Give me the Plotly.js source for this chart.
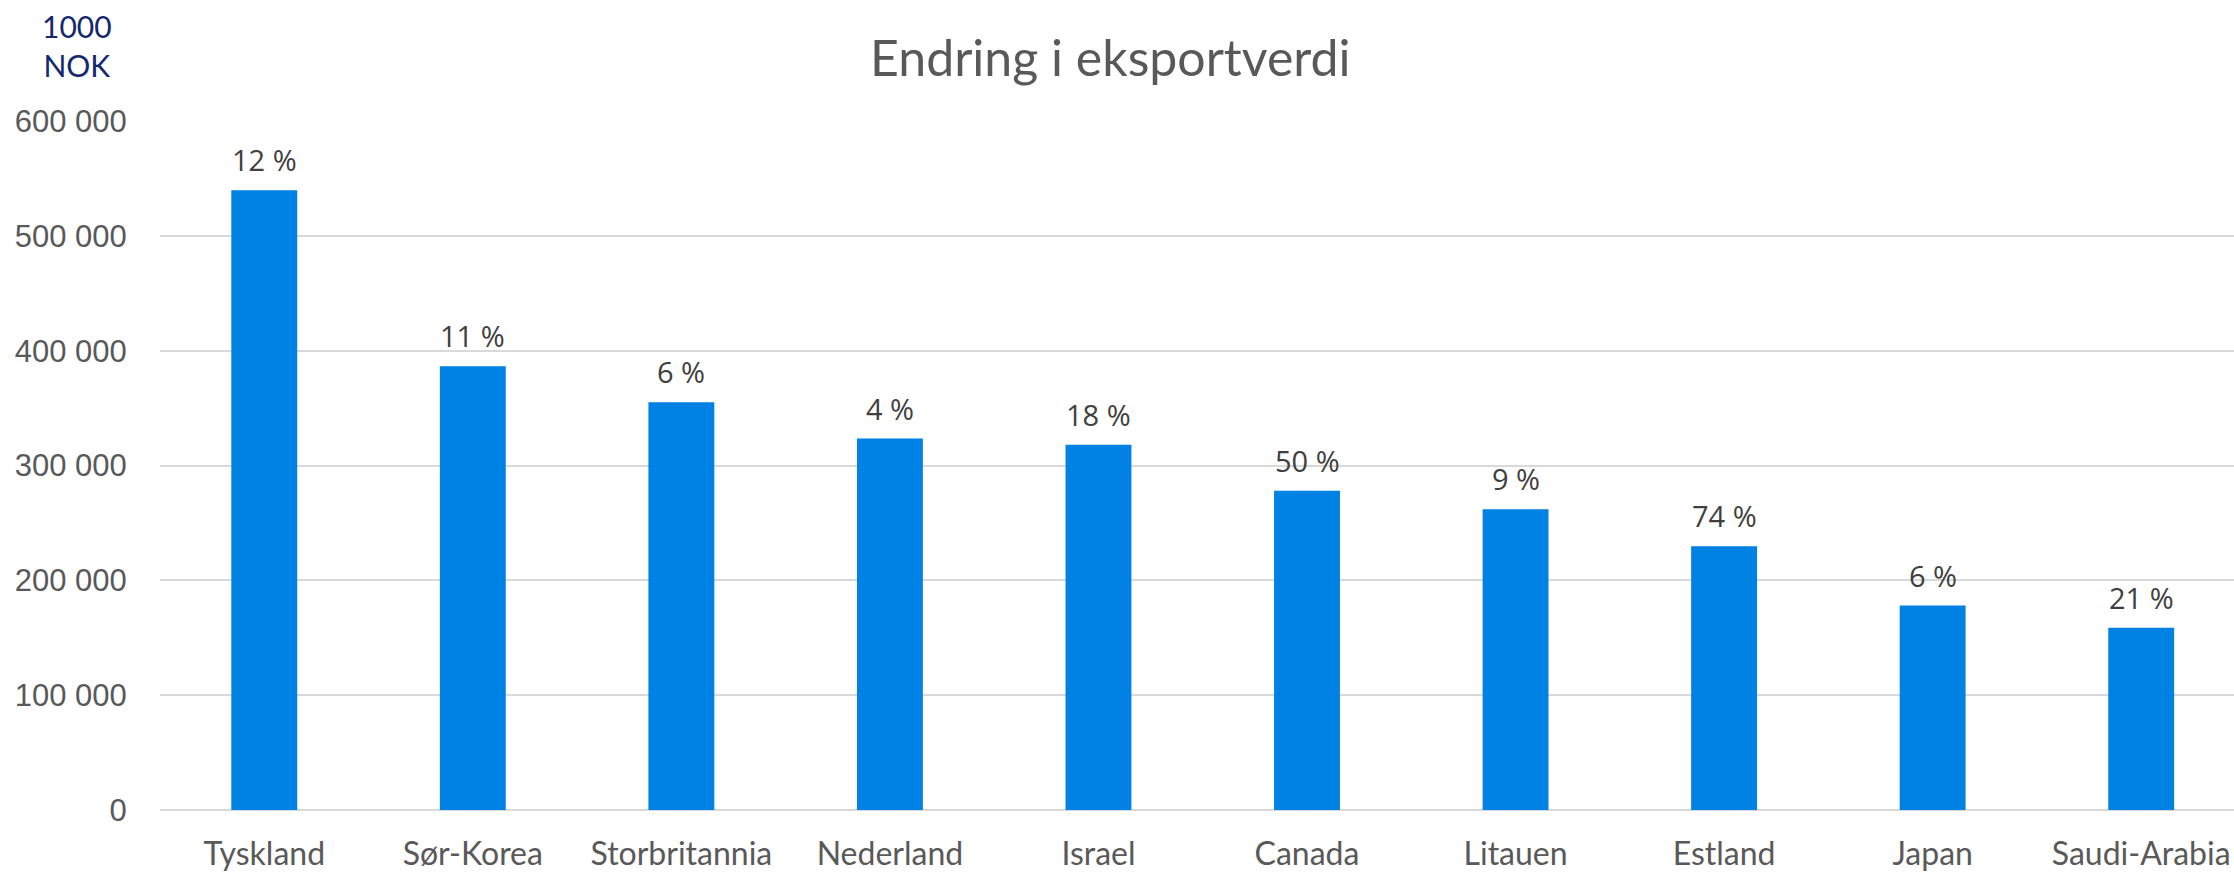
<!DOCTYPE html>
<html>
<head>
<meta charset="utf-8">
<script src="https://cdn.plot.ly/plotly-3.0.1.min.js"></script>
<style>html,body{margin:0;padding:0;background:#fff;}#chart{width:2234px;height:872px;}</style>
</head>
<body>
<div id="chart"></div>
<script>
const countries = ['Tyskland','Sør-Korea','Storbritannia','Nederland','Israel','Canada','Litauen','Estland','Japan','Saudi-Arabia'];
const exportValues = [539600, 386400, 355000, 323500, 318000, 278000, 262000, 229700, 178000, 158800];
const changeLabels = ['12 %','11 %','6 %','4 %','18 %','50 %','9 %','74 %','6 %','21 %'];
const yTicks = [0, 100000, 200000, 300000, 400000, 500000, 600000];

const trace = {
  type: 'bar',
  x: countries,
  y: exportValues,
  marker: {color: '#0081e4'},
  hoverinfo: 'none'
};

const labelAnnotations = countries.map((c, i) => ({
  x: c, y: exportValues[i], xref: 'x', yref: 'y',
  text: changeLabels[i], showarrow: false,
  yanchor: 'bottom', yshift: 9,
  font: {family: 'Open Sans, sans-serif', size: 29, color: '#404040'}
}));

const layout = {
  width: 2234, height: 872,
  margin: {l: 160, r: 0, t: 121, b: 62, pad: 0},
  paper_bgcolor: '#ffffff', plot_bgcolor: '#ffffff',
  separators: ', ',
  bargap: 0.684,
  showlegend: false,
  title: {
    text: 'Endring i eksportverdi',
    xref: 'container', x: 0.497, xanchor: 'center',
    yref: 'container', y: 1 - 58/872, yanchor: 'middle',
    font: {family: 'Lato, sans-serif', size: 50, color: '#595959'}
  },
  xaxis: {
    type: 'category',
    range: [-0.5, 9.445],
    showgrid: false, zeroline: false, showline: false,
    ticks: 'outside', ticklen: 16, tickcolor: 'rgba(0,0,0,0)',
    tickfont: {family: 'Lato, sans-serif', size: 32, color: '#595959'},
    fixedrange: true
  },
  yaxis: {
    range: [0, 600000],
    tickvals: yTicks,
    tickformat: ',d',
    showgrid: true, gridcolor: '#d9d9d9', gridwidth: 2,
    zeroline: true, zerolinecolor: '#d9d9d9', zerolinewidth: 2,
    showline: false,
    ticks: 'outside', ticklen: 26, tickcolor: 'rgba(0,0,0,0)',
    tickfont: {family: 'Liberation Sans, Arial, sans-serif', size: 31, color: '#595959'},
    fixedrange: true
  },
  annotations: labelAnnotations.concat([{
    xref: 'paper', yref: 'paper',
    x: -0.04, y: 1 + (121 - 6) / 689, xanchor: 'center', yanchor: 'top',
    text: '1000<br>NOK', showarrow: false, align: 'center',
    font: {family: 'Lato, sans-serif', size: 30, color: '#14286e'}
  }])
};

Plotly.newPlot('chart', [trace], layout, {staticPlot: true, displayModeBar: false});
</script>
</body>
</html>
